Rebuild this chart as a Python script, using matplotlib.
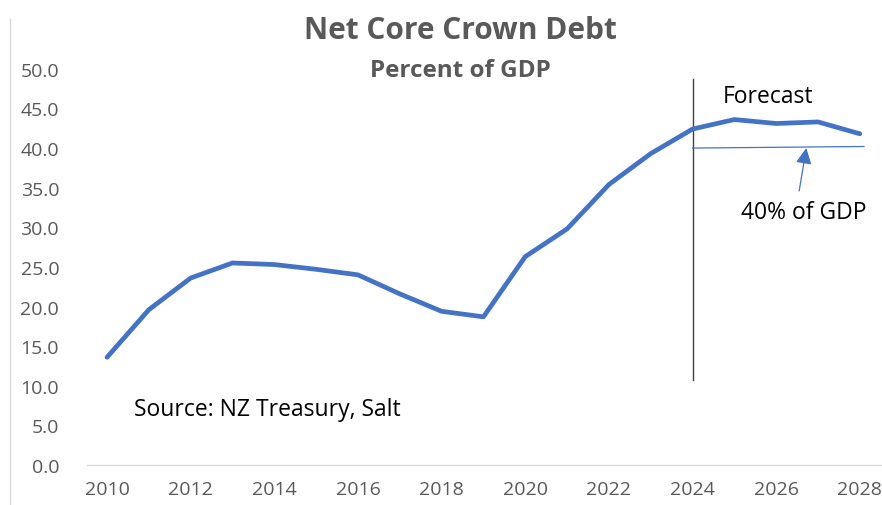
import matplotlib.pyplot as plt
from matplotlib.lines import Line2D

years = list(range(2010, 2029))
debt = [13.6, 19.6, 23.6, 25.5, 25.3, 24.7, 24.0, 21.6, 19.4, 18.7,
        26.3, 29.8, 35.4, 39.3, 42.4, 43.6, 43.1, 43.3, 41.8]
yticks = [0, 5, 10, 15, 20, 25, 30, 35, 40, 45, 50]
xticks = list(range(2010, 2029, 2))

grey = '#595959'
blue = '#4472C4'
plt.rcParams['font.family'] = ['Open Sans', 'DejaVu Sans']

fig = plt.figure(figsize=(8.82, 5.06), dpi=100)
ax = fig.add_axes([0.0986, 0.079, 0.9014, 0.783])

ax.plot(years, debt, color=blue, linewidth=3.4, solid_capstyle='round', zorder=3)

# forecast divider and 40% reference line
ax.plot([2024, 2024], [10.7, 48.7], color='#404040', linewidth=1.0, clip_on=False)
ax.plot([2024, 2028.1], [40.0, 40.2], color=blue, linewidth=0.9)
ax.annotate('', xy=(2026.72, 40.0), xytext=(2026.55, 34.6),
            arrowprops=dict(arrowstyle='-|>', color=blue, lw=0.9,
                            mutation_scale=24, shrinkA=0, shrinkB=0))

ax.text(2025.8, 46.6, 'Forecast', fontsize=16.5, ha='center', va='center', color='black')
ax.text(2026.65, 31.9, '40% of GDP', fontsize=16.5, ha='center', va='center', color='black')
ax.text(2010.65, 7.1, 'Source: NZ Treasury, Salt', fontsize=16.5, ha='left', va='center',
        color='black')

ax.set_xlim(2009.52, 2028.53)
ax.set_ylim(0, 50)
ax.set_xticks(xticks)
ax.set_yticks(yticks)
ax.set_yticklabels([f'{v:.1f}' for v in yticks])
ax.tick_params(axis='both', length=0, labelsize=14, colors=grey)
ax.tick_params(axis='x', pad=11)
ax.tick_params(axis='y', pad=20)
for side in ['top', 'right', 'left']:
    ax.spines[side].set_visible(False)
ax.spines['bottom'].set_color('#d9d9d9')
ax.spines['bottom'].set_linewidth(1.0)

fig.text(0.522, 0.938, 'Net Core Crown Debt', fontsize=21.5, fontweight='bold',
         color=grey, ha='center', va='center')
fig.text(0.522, 0.860, 'Percent of GDP', fontsize=17.5, fontweight='bold',
         color=grey, ha='center', va='center')

fig.add_artist(Line2D([0.0113, 0.0113], [0, 0.96], color='#d9d9d9', linewidth=1.0))

fig.savefig('out.png', dpi=100)
